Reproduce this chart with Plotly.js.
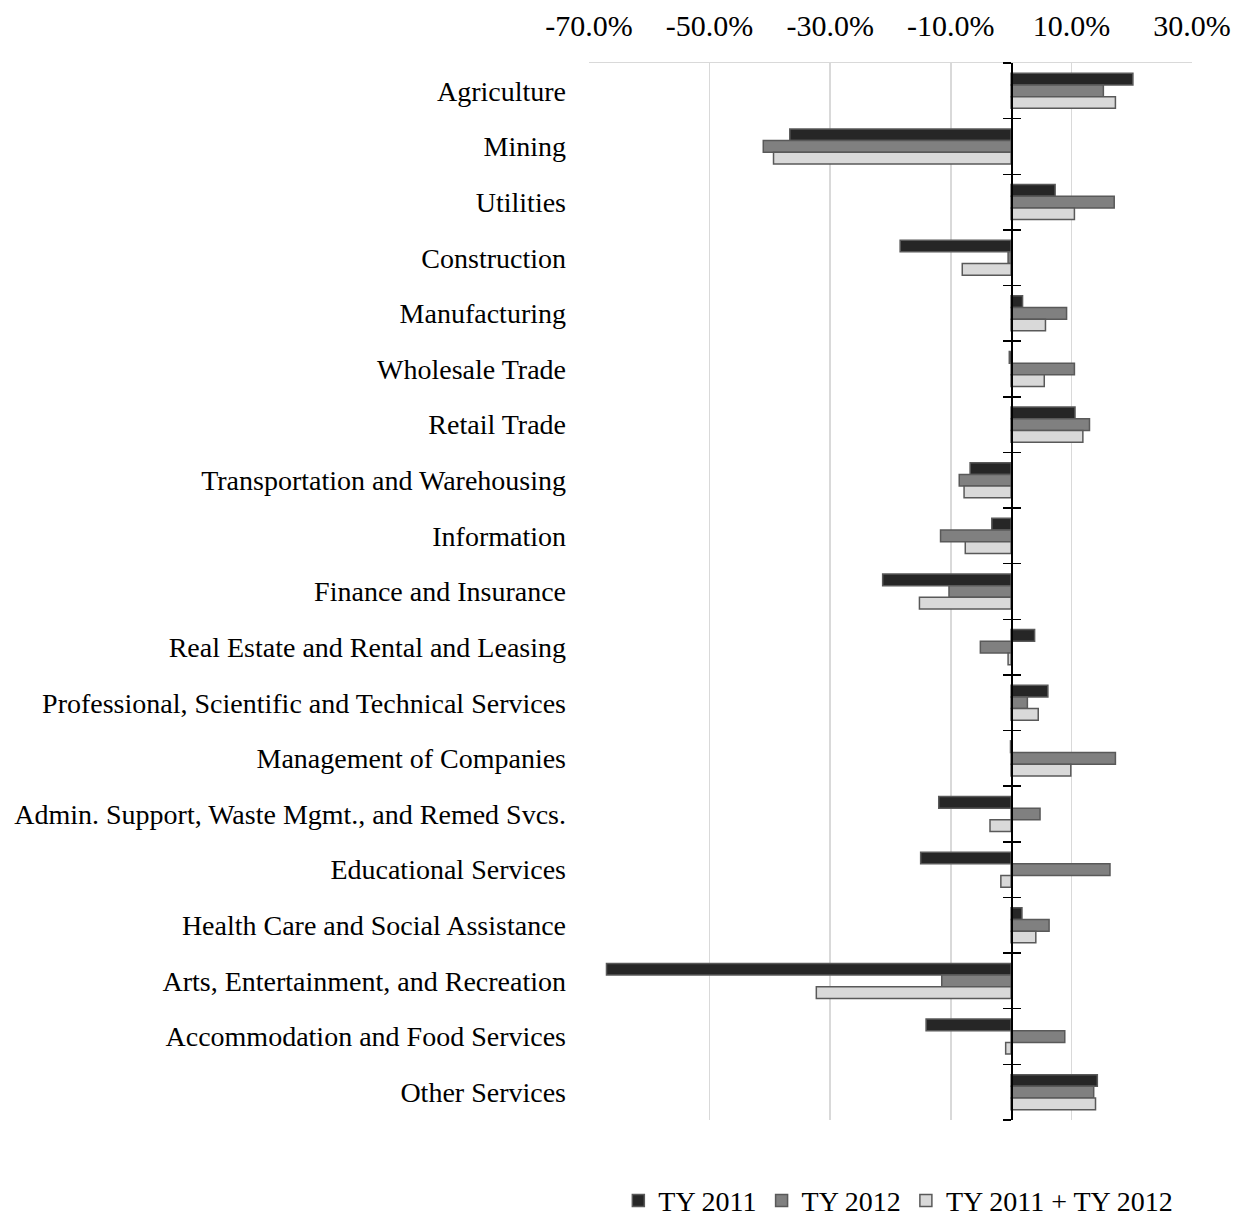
<!DOCTYPE html>
<html>
<head>
<meta charset="utf-8">
<script src="https://cdn.plot.ly/plotly-3.0.1.min.js"></script>
<style>html,body{margin:0;padding:0;background:#fff;}#chart{width:1246px;height:1218px;}</style>
</head>
<body>
<div id="chart"></div>
<script>
const categories = [
  "Agriculture","Mining","Utilities","Construction","Manufacturing","Wholesale Trade","Retail Trade",
  "Transportation and Warehousing","Information","Finance and Insurance","Real Estate and Rental and Leasing",
  "Professional, Scientific and Technical Services","Management of Companies",
  "Admin. Support, Waste Mgmt., and Remed Svcs.","Educational Services","Health Care and Social Assistance",
  "Arts, Entertainment, and Recreation","Accommodation and Food Services","Other Services"
];
const ty2011 = [20.2,-36.7,7.3,-18.4,1.9,-0.3,10.6,-6.8,-3.2,-21.3,3.9,6.1,-0.1,-12.0,-15.0,1.8,-67.1,-14.1,14.3];
const ty2012 = [15.3,-41.1,17.1,-0.5,9.2,10.5,13.0,-8.6,-11.7,-10.3,-5.1,2.7,17.3,4.8,16.4,6.3,-11.5,8.9,13.7];
const tyBoth = [17.3,-39.4,10.5,-8.1,5.7,5.5,11.9,-7.8,-7.6,-15.2,-0.5,4.5,9.9,-3.5,-1.7,4.1,-32.3,-0.9,14.0];
const seriesNames = ["TY 2011","TY 2012","TY 2011 + TY 2012"];
const tickValues = [-70,-50,-30,-10,10,30];
const tickLabels = tickValues.map(v => v.toFixed(1) + "%");

const fills = ["#262626","#808080","#d9d9d9"];
const outline = "#595959";
const font = "Liberation Serif, Times New Roman, serif";
const FS = 28;

const traces = [ty2011, ty2012, tyBoth].map((vals, i) => ({
  type: "bar", orientation: "h", name: seriesNames[i],
  y: categories, x: vals,
  marker: {color: fills[i], line: {color: outline, width: 1.5}},
  hoverinfo: "x+y"
}));
// helper traces carrying the category axis drawn at zero (index positions of the categories)
const catIndex = categories.map((c, i) => i);
["y2","y3"].forEach(ax => traces.push({
  type: "scatter", mode: "none", y: catIndex, x: ty2011, yaxis: ax,
  showlegend: false, hoverinfo: "skip"
}));

const nCat = categories.length;
const zeroAxis = (ticks) => ({
  overlaying: "y", anchor: "free", position: 0.7, type: "linear",
  range: [nCat - 0.5, -0.5], tick0: -0.5, dtick: 1, tickmode: "linear",
  showline: true, linecolor: "#000", linewidth: 1.5,
  ticks: ticks, ticklen: 8, tickwidth: 1.5, tickcolor: "#000",
  showticklabels: false, showgrid: false, zeroline: false, fixedrange: true
});

const layout = {
  width: 1246, height: 1218,
  margin: {l: 589, r: 54, t: 63, b: 98, autoexpand: false},
  paper_bgcolor: "#fff", plot_bgcolor: "#fff",
  font: {family: font, size: FS, color: "#000"},
  barmode: "group", bargap: 0.37, bargroupgap: 0,
  showlegend: true,
  legend: {orientation: "h", x: 0.513, xanchor: "center", y: -0.0765, yanchor: "middle",
           font: {family: font, size: FS, color: "#000"}, traceorder: "normal", itemwidth: 30},
  xaxis: {
    side: "top", range: [-70, 30], tickmode: "array", tickvals: tickValues, ticktext: tickLabels,
    showgrid: true, gridcolor: "#d9d9d9", gridwidth: 1.5,
    showline: true, linecolor: "#d9d9d9", linewidth: 1.5, mirror: false,
    zeroline: false, ticks: "", ticklabelstandoff: 14,
    tickfont: {family: font, size: 30, color: "#000"}
  },
  yaxis: {
    type: "category", categoryorder: "array", categoryarray: categories, autorange: "reversed",
    ticks: "", showline: false, showgrid: false, zeroline: false, ticklabelstandoff: 22,
    tickfont: {family: font, size: FS, color: "#000"}
  },
  yaxis2: zeroAxis("outside"),
  yaxis3: zeroAxis("inside")
};

Plotly.newPlot("chart", traces, layout, {displayModeBar: false, staticPlot: true});
</script>
</body>
</html>
